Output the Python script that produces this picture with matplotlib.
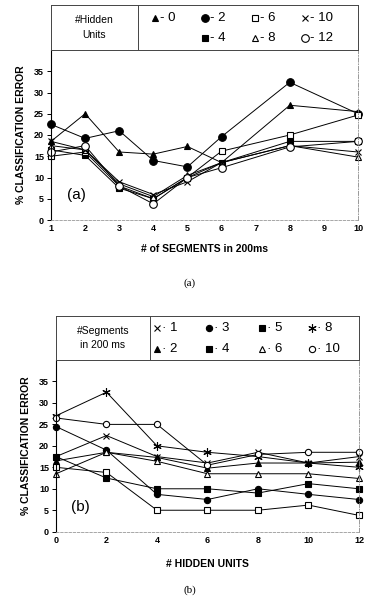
import matplotlib
matplotlib.use('Agg')
import matplotlib.pyplot as plt

plt.rcParams['font.family'] = ['Liberation Sans', 'DejaVu Sans']

# panel (a): error vs number of segments, one line per hidden-unit count
seg_x = [1, 2, 3, 4, 5, 6, 8, 10]
hid_names = ['0', '2', '4', '6', '8', '10', '12']
err_a = {
    '0':  [18.5, 25.0, 16.0, 15.5, 17.3, 13.5, 27.0, 25.5],
    '2':  [22.5, 19.2, 21.0, 14.0, 12.5, 19.6, 32.4, 25.0],
    '4':  [16.5, 15.2, 7.5, 5.0, 10.0, 13.5, 18.5, 18.5],
    '6':  [15.0, 16.0, 8.0, 5.0, 10.0, 16.2, 20.0, 24.7],
    '8':  [17.5, 16.5, 8.5, 5.5, 10.5, 13.5, 17.5, 14.8],
    '10': [18.5, 16.5, 9.0, 6.0, 9.0, 13.5, 17.5, 16.0],
    '12': [16.0, 17.5, 8.0, 3.8, 10.0, 12.3, 17.2, 18.5],
}
# legend reads column by column: 0 / 2,4 / 6,8 / 10,12
leg_a_order = ['0', '2', '4', '6', '8', '10', '12']

# panel (b): error vs hidden units, one line per segment count
hid_x = [0, 2, 4, 6, 8, 10, 12]
seg_names = ['1', '2', '3', '4', '5', '6', '8', '10']
err_b = {
    '1':  [17.5, 22.4, 17.5, 16.0, 18.5, 16.0, 17.5],
    '2':  [16.5, 18.5, 17.3, 14.8, 16.0, 16.0, 16.2],
    '3':  [24.5, 19.0, 8.7, 7.5, 10.0, 8.7, 7.5],
    '4':  [17.5, 12.5, 10.0, 10.0, 9.0, 11.2, 10.0],
    '5':  [15.0, 13.8, 5.0, 5.0, 5.0, 6.2, 3.8],
    '6':  [13.5, 18.5, 16.4, 13.5, 13.5, 13.5, 12.4],
    '8':  [27.0, 32.5, 20.0, 18.5, 17.5, 16.0, 15.0],
    '10': [26.5, 25.0, 25.0, 15.5, 18.0, 18.5, 18.5],
}

W, H = 379.0, 597.0
fig = plt.figure(figsize=(W / 100, H / 100), dpi=100)

def ax_px(x0, y0, x1, y1):
    return fig.add_axes([x0 / W, 1 - y1 / H, (x1 - x0) / W, (y1 - y0) / H])

# marker styles: (marker, filled, size)
sty_a = {'0': ('^', True, 5), '2': ('o', True, 5.5), '4': ('s', True, 5),
         '6': ('s', False, 5), '8': ('^', False, 5), '10': ('x', False, 5),
         '12': ('o', False, 5.5)}
ast = (6, 2, 0)
sty_b = {'1': ('x', False, 5), '2': ('^', True, 5), '3': ('o', True, 4.5),
         '4': ('s', True, 5), '5': ('s', False, 5), '6': ('^', False, 5),
         '8': (ast, False, 6), '10': ('o', False, 4.5)}
leg_b_sty = dict(sty_b)
leg_b_sty['5'] = ('s', True, 5)

def plot_series(ax, x, y, st):
    m, filled, ms = st
    ax.plot(x, y, color='black', lw=0.7, marker=m, ms=ms,
            mfc='black' if filled else 'white', mec='black', mew=0.8)

def style_axes(ax, xlim, xticks):
    ax.set_xlim(*xlim)
    ax.set_ylim(0, 40)
    ax.set_yticks(range(0, 36, 5))
    ax.set_xticks(xticks)
    ax.tick_params(axis='y', direction='out', length=3, width=0.7, labelsize=6.5, pad=2)
    ax.tick_params(axis='x', length=0, labelsize=6.5, pad=3)
    for lab in ax.get_xticklabels() + ax.get_yticklabels():
        lab.set_fontweight('bold')
    ax.spines['top'].set_visible(False)
    ax.spines['left'].set_linewidth(0.8)
    ax.spines['bottom'].set_linewidth(0.6)
    ax.spines['bottom'].set_color('#999999')
    ax.spines['bottom'].set_linestyle((0, (3, 2)))
    ax.spines['right'].set_linewidth(0.6)
    ax.spines['right'].set_color('#888888')
    ax.spines['right'].set_linestyle((0, (5, 2, 1, 2)))

# ---- panel (a)
axa = ax_px(51, 50, 358, 220)
for n in hid_names:
    plot_series(axa, seg_x, err_a[n], sty_a[n])
for line in axa.lines:
    line.set_clip_on(False)
style_axes(axa, (1, 10), range(1, 11))
axa.text(1.75, 5.9, '(a)', fontsize=11, ha='center', va='center')
axa.set_ylabel('% CLASSIFICATION ERROR', fontsize=7.5, fontweight='bold', labelpad=6)
axa.set_xlabel('# of SEGMENTS in 200ms', fontsize=7.5, fontweight='bold', labelpad=8)
fig.text(190 / W, 1 - 283 / H, '(a)', fontsize=8, ha='center', va='center',
         family='Liberation Serif')

# ---- panel (b)
axb = ax_px(56, 360, 359, 531.7)
for n in seg_names:
    plot_series(axb, hid_x, err_b[n], sty_b[n])
for line in axb.lines:
    line.set_clip_on(False)
style_axes(axb, (0, 12), range(0, 13, 2))
axb.text(0.95, 5.8, '(b)', fontsize=11, ha='center', va='center')
axb.set_ylabel('% CLASSIFICATION ERROR', fontsize=7.5, fontweight='bold', labelpad=6)
axb.set_xlabel('# HIDDEN UNITS', fontsize=7.5, fontweight='bold', labelpad=10)
fig.text(190 / W, 1 - 590 / H, '(b)', fontsize=8, ha='center', va='center',
         family='Liberation Serif')

# ---- legend boxes, drawn in pixel space
def legend_box(x0, y0, x1, y1, xdiv, title, names, styles, cols, rows, fmt):
    lg = ax_px(x0, y0, x1, y1)
    lg.set_xlim(x0, x1)
    lg.set_ylim(y1, y0)
    lg.set_xticks([])
    lg.set_yticks([])
    for s in lg.spines.values():
        s.set_linewidth(0.7)
        s.set_color('#444444')
    lg.axvline(xdiv, color='#444444', lw=0.7)
    lg.text((x0 + xdiv) / 2, (y0 + y1) / 2, title, ha='center', va='center',
            fontsize=7.5, linespacing=1.6)
    for i, n in enumerate(names):
        cx, cy = cols[i], rows[i]
        m, filled, ms = styles[n]
        lg.plot([cx], [cy], marker=m, ms=ms, color='black',
                mfc='black' if filled else 'white', mec='black', mew=0.8)
        lg.text(cx + 5, cy, fmt + n, fontsize=9.5, va='center', ha='left')
    return lg

r1a, r2a = 18, 38
legend_box(51, 5, 358, 50, 138, '#Hidden\nUnits', leg_a_order, sty_a,
           [155, 205, 205, 255, 255, 305, 305],
           [r1a, r1a, r2a, r1a, r2a, r1a, r2a], '- ')

r1b, r2b = 328, 349
legend_box(56, 316, 359, 360, 150, '#Segments\nin 200 ms', seg_names, leg_b_sty,
           [157, 157, 209, 209, 262, 262, 312, 312],
           [r1b, r2b, r1b, r2b, r1b, r2b, r1b, r2b], '\u00b7 ')

fig.savefig('out.png', dpi=100)
